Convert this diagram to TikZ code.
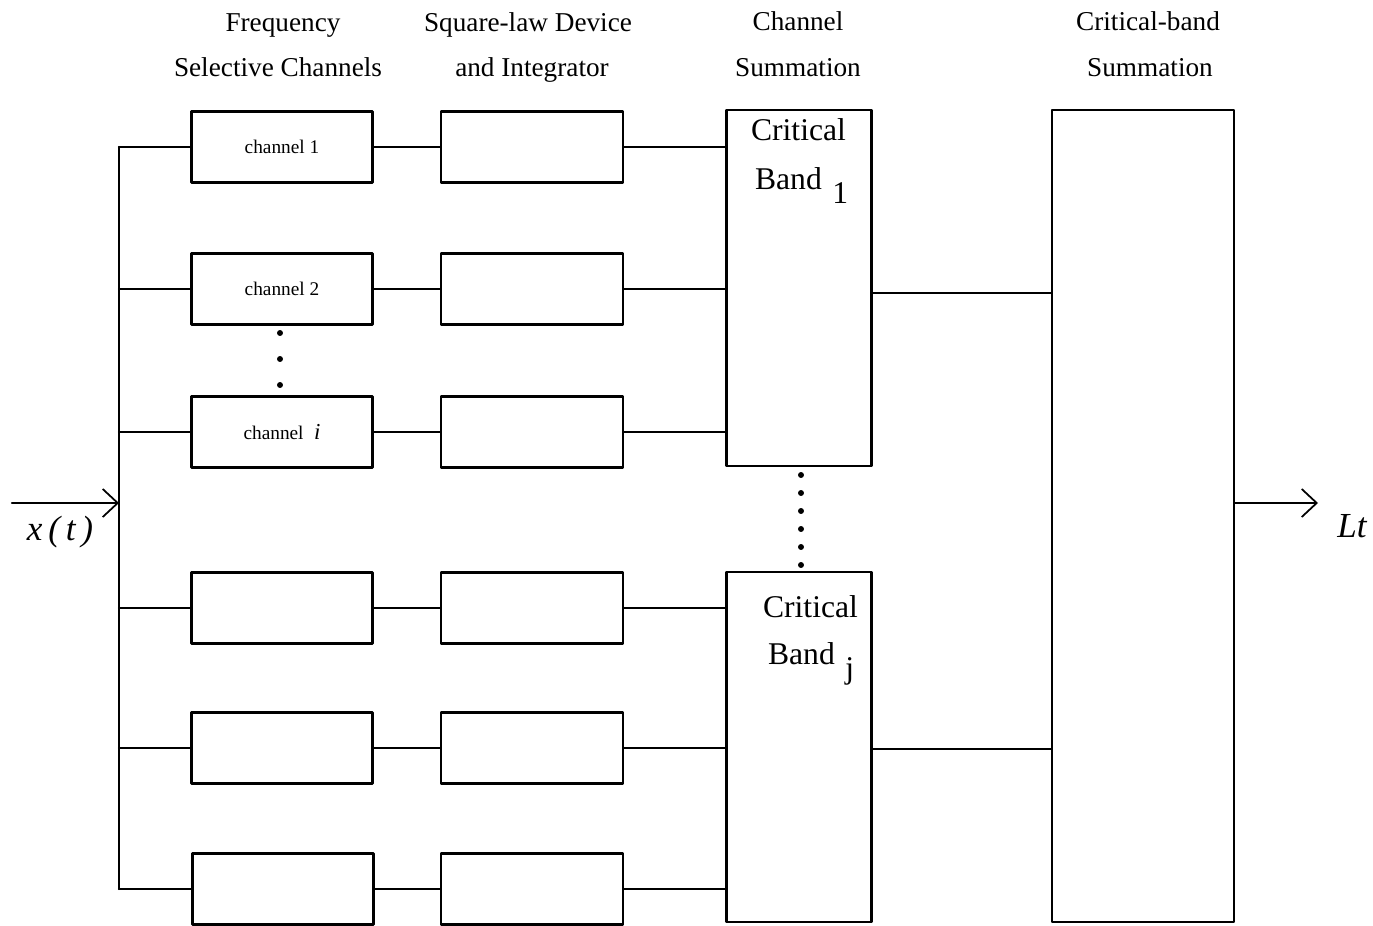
\documentclass[tikz,border=0pt]{standalone}
\usepackage{fontspec}
\setmainfont{Liberation Serif}
\usetikzlibrary{arrows.meta}

\begin{document}
\begin{tikzpicture}[x=0.02cm,y=-0.02cm,line join=round,line cap=round,line width=1.2pt,
    >={Straight Barb[length=3mm,width=5.6mm,line width=1pt]}]
	\tikzset{chbox/.style={draw,minimum width=3.62cm,minimum height=1.42cm,inner sep=0pt,font=\fontsize{11}{13}\selectfont},
		sqbox/.style={draw,minimum width=3.64cm,minimum height=1.42cm},
		bandbox/.style={draw,minimum width=2.9cm},
		head/.style={anchor=base,font=\fontsize{15.5}{18}\selectfont},
		bandtxt/.style={anchor=base west,inner sep=0pt,font=\fontsize{18}{20}\selectfont},
		sigtxt/.style={anchor=base,font=\fontsize{20}{22}\selectfont\itshape}}
	\useasboundingbox (0,0) rectangle (1373,926);
	% headings
	\node[head] (h1a) at (283,32) {Frequency};
	\node[head] (h1b) at (278,77) {Selective Channels};
	\node[head] (h2a) at (528,32) {Square-law Device};
	\node[head] (h2b) at (532,77) {and Integrator};
	\node[head] (h3a) at (798,31) {Channel};
	\node[head] (h3b) at (798,77) {Summation};
	\node[head] (h4a) at (1148,31) {Critical-band};
	\node[head] (h4b) at (1150,77) {Summation};
	% filter bank
	\node[chbox] (c1) at (282,147) {channel 1};
	\node[chbox] (c2) at (282,289) {channel 2};
	\node[chbox] (c3) at (282,432) {channel\hspace{6pt}{\fontsize{13}{15}\selectfont\itshape i}};
	\node[chbox] (c4) at (282,608) {};
	\node[chbox] (c5) at (282,748) {};
	\node[chbox] (c6) at (283,889) {};
	\foreach \k/\y in {1/147,2/289,3/432,4/608,5/748,6/889}
		\node[sqbox] (s\k) at (532,\y) {};
	% critical bands
	\node[bandbox,minimum height=7.12cm] (cb1) at (799,288) {};
	\node[bandbox,minimum height=7.0cm] (cbj) at (799,747) {};
	\node[draw,minimum width=3.64cm,minimum height=16.24cm] (cbs) at (1143,516) {};
	\node[bandtxt] (cb1a) at (750,141) {Critical};
	\node[bandtxt] (cb1b) at (754,190) {Band\hspace{6pt}\raisebox{-7.5pt}{1}};
	\node[bandtxt] (cbja) at (762,617) {Critical};
	\node[bandtxt] (cbjb) at (767,664) {Band\hspace{6pt}\raisebox{-8pt}{j}};
	% input
	\coordinate (xin) at (12,503);
	\coordinate (bus) at (119,503);
	\draw[->] (xin) -- (bus);
	\node[sigtxt] (xt) at (60,540) {x\,(\,t\,)};
	\draw (c1.west -| bus) -- (c6.west -| bus);
	\foreach \k in {1,...,6} {
		\draw (c\k.west -| bus) -- (c\k.west);
		\draw (c\k.east) -- (s\k.west);
	}
	\foreach \k in {1,2,3}
		\draw (s\k.east) -- (s\k.east -| cb1.west);
	\foreach \k in {4,5,6}
		\draw (s\k.east) -- (s\k.east -| cbj.west);
	\draw (cb1.east) ++(0,5) coordinate (o1) -- (o1 -| cbs.west);
	\draw (cbj.east) ++(0,2) coordinate (oj) -- (oj -| cbs.west);
	% output
	\coordinate (lout) at (1318,503);
	\draw[->] (lout -| cbs.east) -- (lout);
	\node[sigtxt] (lt) at (1352,537) {Lt};
	% dots
	\foreach \y in {333,359,385}
		\fill (280,\y) circle (1.7pt);
	\foreach \y in {475,493,511,529,547,565}
		\fill (801,\y) circle (1.7pt);
\end{tikzpicture}
\end{document}
